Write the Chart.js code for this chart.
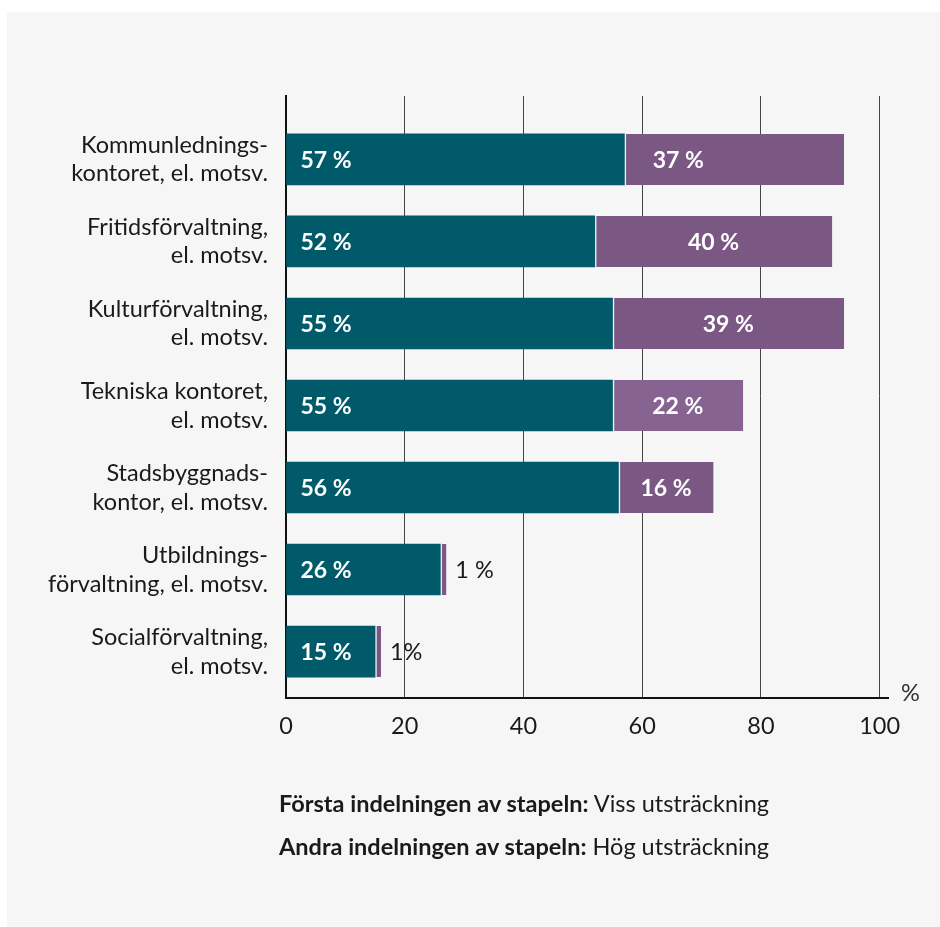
<!DOCTYPE html>
<html lang="sv">
<head>
<meta charset="utf-8">
<title>Viss och hög utsträckning per förvaltning</title>
<script src="https://cdn.jsdelivr.net/npm/chart.js@4/dist/chart.umd.min.js"></script>
<style>
    html, body { margin: 0; padding: 0; background: #ffffff; }
    body { width: 940px; height: 927px; position: relative; overflow: hidden; font-family: Lato, "Noto Sans", sans-serif; }
    .panel { position: absolute; left: 7px; top: 12px; right: 0; bottom: 0; background: #f6f6f6; }
    #diagram { position: absolute; left: 0; top: 0; }
    .forklaring { position: absolute; left: 279px; font-size: 23.5px; color: #1a1a1a; white-space: nowrap; line-height: 28px; }
    .forklaring b { font-weight: 700; }
</style>
</head>
<body>
<div class="panel"></div>
<canvas id="diagram" width="940" height="927"></canvas>
<div class="forklaring" style="top: 789px;"><b>Första indelningen av stapeln:</b> Viss utsträckning</div>
<div class="forklaring" style="top: 832px;"><b>Andra indelningen av stapeln:</b> Hög utsträckning</div>

<script>
// Kategorier (flerradiga etiketter på y-axeln)
const kategorier = [
    ['Kommunlednings-', 'kontoret, el. motsv.'],
    ['Fritidsförvaltning,', 'el. motsv.'],
    ['Kulturförvaltning,', 'el. motsv.'],
    ['Tekniska kontoret,', 'el. motsv.'],
    ['Stadsbyggnads-', 'kontor, el. motsv.'],
    ['Utbildnings-', 'förvaltning, el. motsv.'],
    ['Socialförvaltning,', 'el. motsv.']
];

// Första indelningen: viss utsträckning (%)
const vissUtstrackning = [57, 52, 55, 55, 56, 26, 15];

// Andra indelningen: hög utsträckning (%)
const hogUtstrackning = [37, 40, 39, 22, 16, 1, 1];

// Etiketter för värdena (som i originalet)
const vissEtiketter = ['57 %', '52 %', '55 %', '55 %', '56 %', '26 %', '15 %'];
const hogEtiketter = ['37 %', '40 %', '39 %', '22 %', '16 %', '1 %', '1%'];

// Skalsteg på x-axeln
const xSteg = [0, 20, 40, 60, 80, 100];

const TEAL = '#005a69';
const LILA = '#7b5784';
const LILA_LJUS = '#876391';
const TEXT = '#1a1a1a';
const TEXTSTORLEK = 23.5;

document.addEventListener('DOMContentLoaded', function() {
    initDiagram();
});

// Skriver ut procentvärden i/bredvid staplarna
const stapelEtiketter = {
    id: 'stapelEtiketter',
    afterDatasetsDraw(chart, args, opts) {
        const ctx = chart.ctx;
        ctx.save();
        ctx.textBaseline = 'middle';

        chart.getDatasetMeta(0).data.forEach((bar, i) => {
            ctx.font = 'bold 23px Lato';
            ctx.fillStyle = '#ffffff';
            ctx.textAlign = 'left';
            ctx.fillText(vissEtiketter[i], bar.base + 14, bar.y + 1);
        });

        chart.getDatasetMeta(1).data.forEach((bar, i) => {
            const bredd = bar.x - bar.base;
            if (bredd > 40) {
                ctx.font = 'bold 23px Lato';
                ctx.fillStyle = '#ffffff';
                ctx.textAlign = 'center';
                const forskjut = (opts.forskjutning && opts.forskjutning[i]) || 0;
                ctx.fillText(hogEtiketter[i], (bar.x + bar.base) / 2 + forskjut, bar.y + 1);
            } else {
                ctx.font = TEXTSTORLEK + 'px Lato';
                ctx.fillStyle = TEXT;
                ctx.textAlign = 'left';
                ctx.fillText(hogEtiketter[i], bar.x + 9, bar.y + 1);
            }
        });

        // "%" vid slutet av x-axeln
        const x = chart.scales.x;
        ctx.font = TEXTSTORLEK + 'px Lato';
        ctx.fillStyle = '#333333';
        ctx.textAlign = 'left';
        ctx.fillText('%', x.right + 13, x.top - 5);
        ctx.restore();
    }
};

function initDiagram() {
    const ctx = document.getElementById('diagram');
    if (!ctx) return;

    const data = {
        datasets: [
            {
                label: 'Viss utsträckning',
                data: vissUtstrackning.map((v, i) => ({ x: v, y: i })),
                backgroundColor: TEAL,
                borderWidth: 0,
                barThickness: 51
            },
            {
                label: 'Hög utsträckning',
                data: hogUtstrackning.map((v, i) => ({ x: v, y: i })),
                backgroundColor: (c) => c.dataIndex === 3 ? LILA_LJUS : LILA,
                borderColor: '#eef2f3',
                borderWidth: { left: 2, right: 0, top: 0, bottom: 0 },
                borderSkipped: false,
                barThickness: 51
            }
        ]
    };

    const config = {
        type: 'bar',
        data: data,
        options: {
            indexAxis: 'y',
            responsive: false,
            animation: false,
            devicePixelRatio: 1,
            layout: {
                padding: { top: 96, right: 52, bottom: 0, left: 0 }
            },
            plugins: {
                legend: { display: false },
                tooltip: { enabled: false },
                stapelEtiketter: {
                    // första "37 %" sitter inte centrerad i originalet
                    forskjutning: { 0: -56 }
                }
            },
            scales: {
                x: {
                    type: 'linear',
                    stacked: true,
                    min: 0,
                    max: 101.4,
                    afterFit: function(scale) { scale.height = 229; },
                    afterBuildTicks: function(scale) {
                        scale.ticks = xSteg.map(v => ({ value: v }));
                    },
                    ticks: {
                        includeBounds: false,
                        padding: 14,
                        color: TEXT,
                        font: { family: 'Lato', size: TEXTSTORLEK }
                    },
                    grid: {
                        color: '#444444',
                        lineWidth: 1,
                        drawTicks: false
                    },
                    border: { display: true, color: '#111111', width: 2 }
                },
                y: {
                    type: 'linear',
                    stacked: true,
                    reverse: true,
                    offset: false,
                    min: -0.773,
                    max: 6.566,
                    afterFit: function(scale) { scale.width = 286; },
                    ticks: {
                        stepSize: 1,
                        includeBounds: false,
                        autoSkip: false,
                        padding: 18,
                        color: TEXT,
                        font: { family: 'Lato', size: TEXTSTORLEK, lineHeight: 1.23 },
                        callback: function(value) {
                            return Number.isInteger(value) ? kategorier[value] : '';
                        }
                    },
                    grid: { display: false, drawTicks: false, offset: false },
                    border: { display: true, color: '#111111', width: 2 }
                }
            }
        },
        plugins: [stapelEtiketter]
    };

    // Skapa diagrammet
    const diagram = new Chart(ctx, config);
}
</script>
</body>
</html>
